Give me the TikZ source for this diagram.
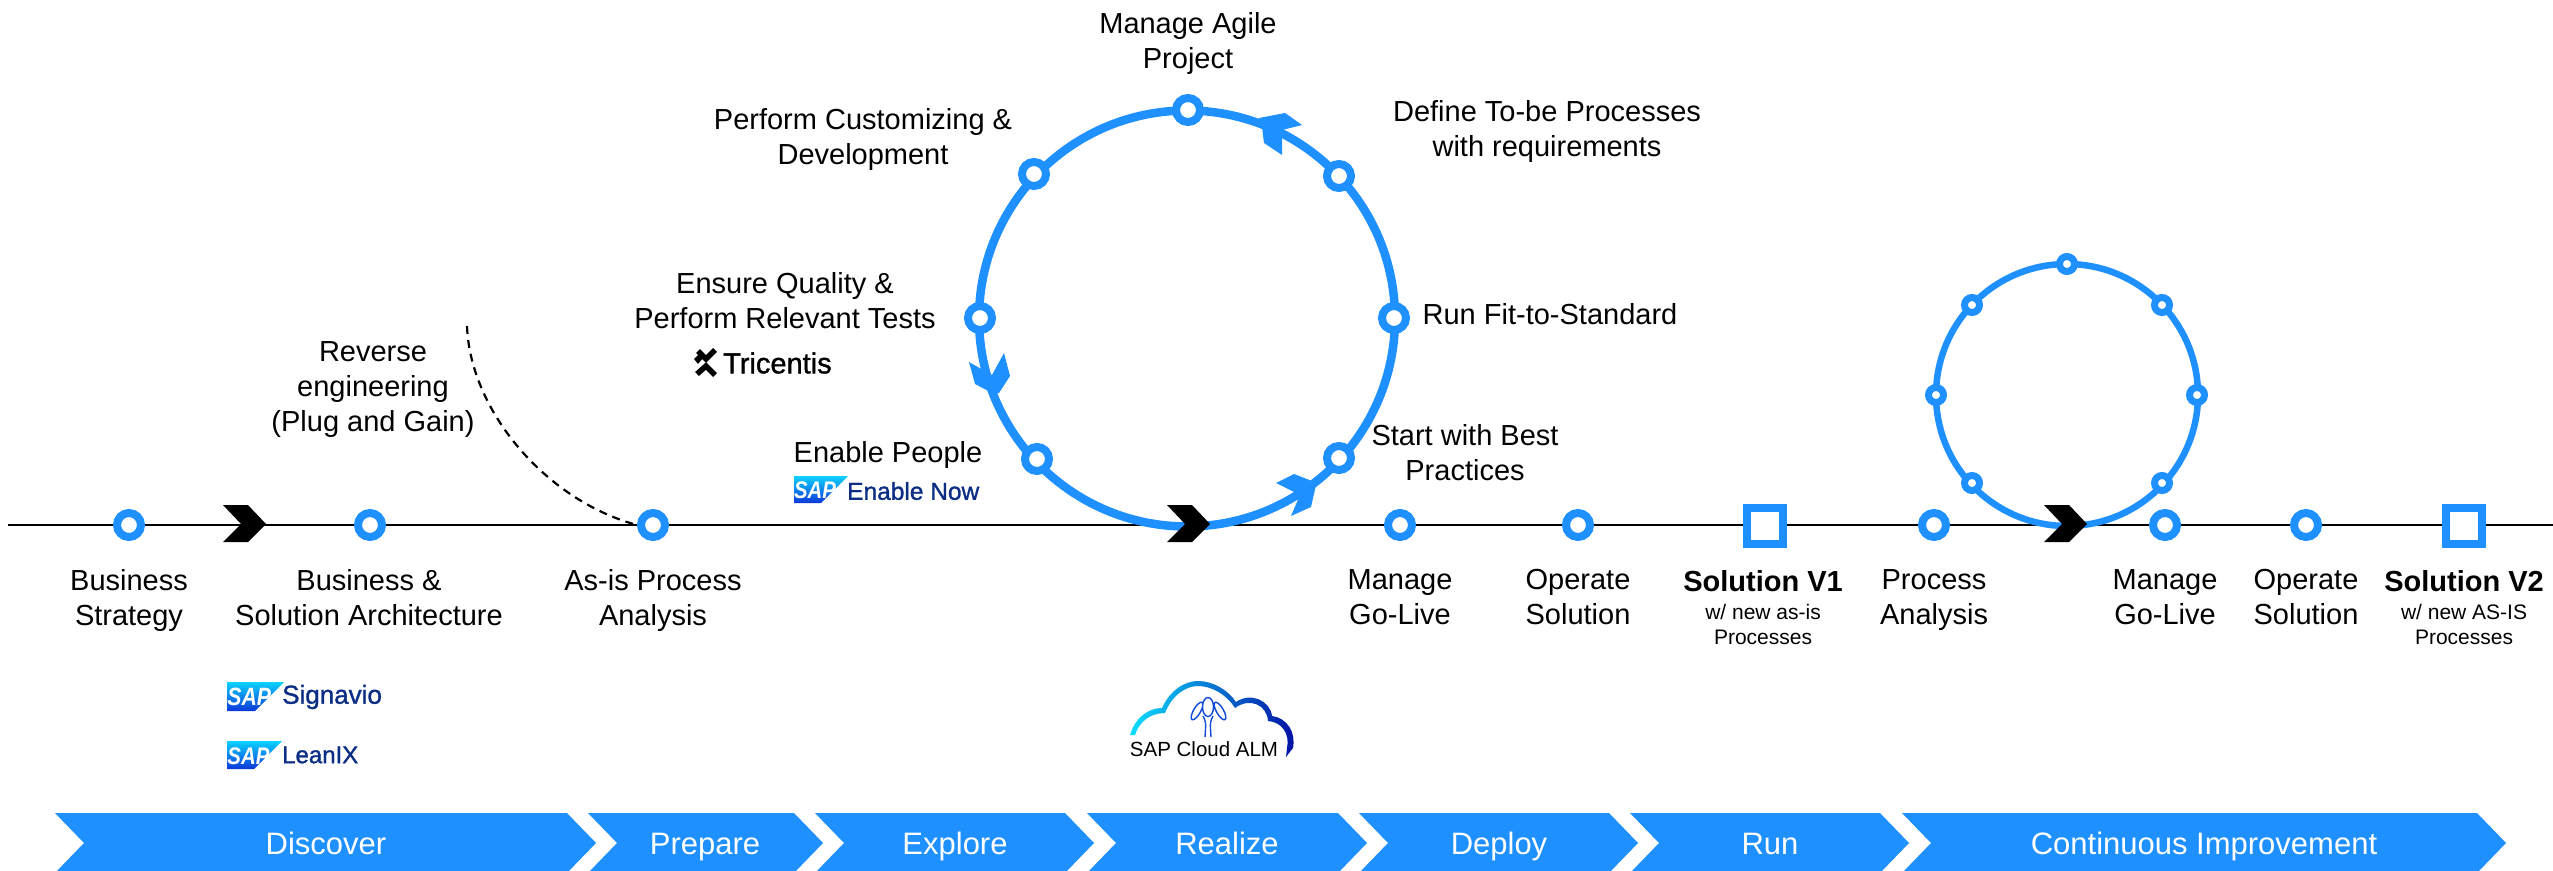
\documentclass[tikz,border=0pt]{standalone}
\usepackage{fontspec}
\setmainfont{Liberation Sans}
\newfontfamily\logofont[FakeBold=1.2]{Liberation Sans}
\usetikzlibrary{calc}
\definecolor{sapblue}{HTML}{1E90FF}
\definecolor{logonavy}{HTML}{0B2E84}
\tikzset{
  x=1pt,y=-1pt,
  lbl/.style={font=\fontsize{29}{35}\selectfont,align=center,inner sep=0pt,text=black,
    execute at begin node={\rule{0pt}{26pt}},execute at end node={\rule[-6pt]{0pt}{6pt}}},
  sublbl/.style={font=\fontsize{21}{25}\selectfont,align=center,inner sep=0pt,text=black,
    execute at begin node={\rule{0pt}{19pt}},execute at end node={\rule[-5pt]{0pt}{5pt}}},
  bandlbl/.style={font=\fontsize{31}{35}\selectfont,text=white,inner sep=0pt,text height=28pt,text depth=6pt},
  axisline/.style={draw=black,line width=2.6pt},
  bigring/.style={circle,draw=sapblue,line width=8.5pt,inner sep=0pt,minimum size=416pt},
  smallring/.style={circle,draw=sapblue,line width=6.5pt,inner sep=0pt,minimum size=262pt},
  bigdot/.style={circle,draw=sapblue,fill=white,line width=8pt,inner sep=0pt,minimum size=24pt},
  smalldot/.style={circle,draw=sapblue,fill=white,line width=7pt,inner sep=0pt,minimum size=15pt},
  squaremark/.style={rectangle,draw=sapblue,fill=white,line width=8pt,inner sep=0pt,minimum size=36pt},
  brandtext/.style={font=\logofont\fontsize{#1}{#1}\selectfont,text=logonavy,inner sep=0pt,anchor=west},
}
\newcommand{\bandshape}[4]{%
  \fill[sapblue] (#1,813) -- (#2,813) -- (#2+29,843) -- (#2,873) -- (#1,873) -- (#1+29,843) -- cycle;
  \node[bandlbl] (#4) at (#3,843) {#4};}
\newcommand{\chevmark}[2]{%
  \fill[black] (#1-21,#2-19) -- (#1+4,#2-19) -- (#1+22,#2) -- (#1+4,#2+18) -- (#1-21,#2+18) -- (#1-3,#2) -- cycle;}
\newcommand{\saplogo}[6]{% name x y w h fontsize
  \shade[top color=cyan!60!sapblue,bottom color=blue!55!sapblue!85!black]
    (#2,#3) -- (#2+#4,#3) -- (#2+#4-#5,#3+#5) -- (#2,#3+#5) -- cycle;
  \node[font=\bfseries\itshape\fontsize{#6}{#6}\selectfont,text=white,inner sep=0pt] (#1) at ($(#2,#3)+(0.39*#4,0.53*#5)$) {\scalebox{0.85}[1]{SAP}};}
\begin{document}
\begin{tikzpicture}
\useasboundingbox (0,0) rectangle (2553,870);
\clip (0,0) rectangle (2553,870);
% axis
\coordinate (axisstart) at (8,525);
\coordinate (axisend) at (2553,525);
\draw[axisline] (axisstart) -- (axisend);
% rings
\node[bigring] (bigloop) at (1187,318.5) {};
\node[smallring] (smallloop) at (2067,395) {};
% dashed curve
\coordinate (revstart) at (467,326);
% axis markers
\node[bigdot] (bstrategy) at (129,525) {};
\node[bigdot] (barch) at (370,525) {};
\node[bigdot] (asis) at (653,525) {};
\node[bigdot] (golive) at (1400,525) {};
\node[bigdot] (operate) at (1578,525) {};
\node[squaremark] (v1) at (1765,526) {};
\node[bigdot] (panalysis) at (1934,525) {};
\node[bigdot] (golivetwo) at (2165,525) {};
\node[bigdot] (operatetwo) at (2306,525) {};
\node[squaremark] (v2) at (2464,526) {};
\draw[black,line width=2.2pt,dash pattern=on 8pt off 6pt] (revstart) .. controls (470,410) and (545,500) .. (asis.west);
% big ring dots
\node[bigdot] (agile) at (1188,110) {};
\node[bigdot] (tobe) at (1339,176) {};
\node[bigdot] (fit) at (1394,318) {};
\node[bigdot] (best) at (1339,458) {};
\node[bigdot] (custom) at (1034,174) {};
\node[bigdot] (quality) at (980,318) {};
\node[bigdot] (enable) at (1037,459) {};
% small ring dots
\node[smalldot] (s1) at (2067,264) {};
\node[smalldot] (s2) at (2162,305) {};
\node[smalldot] (s3) at (2197,395) {};
\node[smalldot] (s4) at (2162,483) {};
\node[smalldot] (s5) at (1972,483) {};
\node[smalldot] (s6) at (1936,395) {};
\node[smalldot] (s7) at (1972,305) {};
% ring arrowheads
\fill[sapblue] (1259,118) -- (1285,113) -- (1302,125) -- (1282,130) -- (1282,155) -- (1264,143) -- (1262,127) -- cycle;
\fill[sapblue] (1276,483) -- (1294,474) -- (1312,481) -- (1316,485) -- (1311,507) -- (1291,516) -- (1300,495) -- cycle;
\fill[sapblue] (969,362) -- (992,375) -- (1004,353) -- (1010,376) -- (999,393) -- (992,393) -- (975,384) -- cycle;
% black chevrons
\chevmark{244}{524}
\chevmark{1188}{524}
\chevmark{2065}{524}
% labels
\node[lbl] (l1) at (129,600) {Business\\Strategy};
\node[lbl] (l2) at (369,600) {Business \&\\Solution Architecture};
\node[lbl] (l3) at (653,600) {As-is Process\\Analysis};
\node[lbl] (l4) at (1400,600) {Manage\\Go-Live};
\node[lbl] (l5) at (1578,600) {Operate\\Solution};
\node[lbl] (l6) at (1934,600) {Process\\Analysis};
\node[lbl] (l7) at (2165,600) {Manage\\Go-Live};
\node[lbl] (l8) at (2306,600) {Operate\\Solution};
\node[lbl,font=\bfseries\fontsize{29}{35}\selectfont] (l9) at (1763,581) {Solution V1};
\node[sublbl] (l10) at (1763,627) {w/ new as-is\\Processes};
\node[lbl,font=\bfseries\fontsize{29}{35}\selectfont] (l11) at (2464,581) {Solution V2};
\node[sublbl] (l12) at (2464,627) {w/ new AS-IS\\Processes};
\node[lbl] (l13) at (373,390) {Reverse\\engineering\\(Plug and Gain)};
\node[lbl] (l14) at (1188,44) {Manage Agile\\Project};
\node[lbl] (l15) at (863,140) {Perform Customizing \&\\Development};
\node[lbl] (l16) at (1547,132) {Define To-be Processes\\with requirements};
\node[lbl] (l17) at (1550,314) {Run Fit-to-Standard};
\node[lbl] (l18) at (1465,455) {Start with Best\\Practices};
\node[lbl] (l19) at (785,303) {Ensure Quality \&\\Perform Relevant Tests};
\node[lbl] (l20) at (888,453) {Enable People};
% logos
\saplogo{saponea}{227}{682}{57}{29}{25}
\node[brandtext=26] (signavio) at (282,697) {Signavio};
\saplogo{saponeb}{227}{741}{55}{28}{24}
\node[brandtext=24] (leanix) at (282,755) {LeanIX};
\saplogo{saponec}{794}{476}{54}{27}{24}
\node[brandtext=24.5] (enablenow) at (847,491) {Enable Now};
% tricentis
\node[font=\logofont\fontsize{29}{29}\selectfont,inner sep=0pt,anchor=west] (tricentis) at (723,363) {Tricentis};
\draw[black,line width=5.5pt] (698,351) -- (706,359) -- (715,350);
\draw[black,line width=5.5pt] (697,374) -- (706,366) -- (715,375);
\fill[black] (694,359) -- (699,354) -- (703,358) -- (698,364) -- cycle;
% cloud
\shade[left color=cyan!70!sapblue,right color=blue!60!black!90!sapblue]
  (1130,735) .. controls (1135,718) and (1148,708) .. (1162,708)
  .. controls (1170,690) and (1185,681) .. (1198,681)
  .. controls (1213,681) and (1228,690) .. (1236,702)
  .. controls (1250,692) and (1270,700) .. (1272,716)
  .. controls (1287,718) and (1296,732) .. (1293,748)
  -- (1286,757) -- (1287,748)
  .. controls (1290,734) and (1282,722) .. (1268,721)
  .. controls (1267,705) and (1250,697) .. (1235,708)
  .. controls (1227,695) and (1212,686) .. (1198,686)
  .. controls (1186,686) and (1172,695) .. (1165,713)
  .. controls (1150,713) and (1139,722) .. (1135,735) -- cycle;
\draw[blue!40!sapblue!85!black,line width=1.4pt]
  (1208,707) ellipse [x radius=5.5,y radius=9.5]
  (1197,711) ellipse [x radius=3.5,y radius=10,rotate=-30]
  (1220,711) ellipse [x radius=3.5,y radius=10,rotate=30]
  (1203,716) .. controls (1206,722) .. (1205,737)
  (1213,716) .. controls (1210,722) .. (1211,737);
\node[font=\fontsize{20.5}{21}\selectfont,inner sep=0pt] (alm) at (1204,749) {SAP Cloud ALM};
% phase band
\bandshape{55}{567}{326}{Discover}
\bandshape{588}{794}{705}{Prepare}
\bandshape{815}{1065}{955}{Explore}
\bandshape{1087}{1338}{1227}{Realize}
\bandshape{1359}{1609}{1499}{Deploy}
\bandshape{1630}{1880}{1770}{Run}
\bandshape{1902}{2477}{2204}{Continuous Improvement}
\end{tikzpicture}
\end{document}
